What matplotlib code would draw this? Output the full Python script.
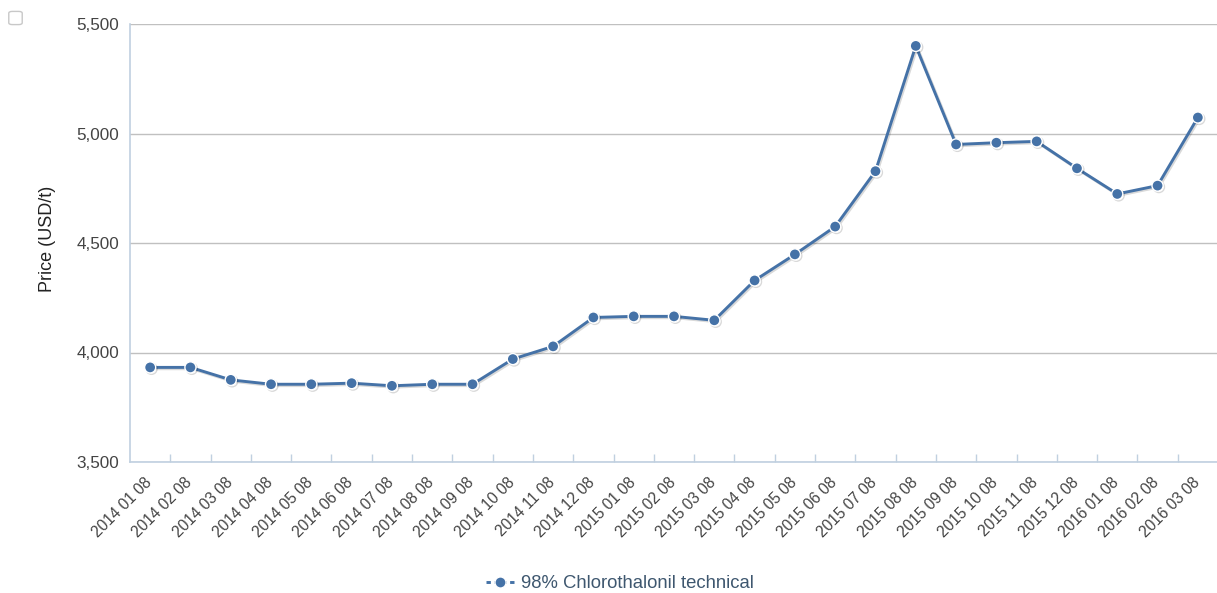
import numpy as np
import matplotlib.pyplot as plt
from matplotlib.lines import Line2D
from matplotlib.patches import FancyBboxPatch
from matplotlib.transforms import ScaledTranslation
import matplotlib.patheffects as pe

plt.rcParams['font.family'] = ['Liberation Sans', 'DejaVu Sans']

# data
months = ["2014 01 08", "2014 02 08", "2014 03 08", "2014 04 08", "2014 05 08",
          "2014 06 08", "2014 07 08", "2014 08 08", "2014 09 08", "2014 10 08",
          "2014 11 08", "2014 12 08", "2015 01 08", "2015 02 08", "2015 03 08",
          "2015 04 08", "2015 05 08", "2015 06 08", "2015 07 08", "2015 08 08",
          "2015 09 08", "2015 10 08", "2015 11 08", "2015 12 08", "2016 01 08",
          "2016 02 08", "2016 03 08"]
price = [3932, 3932, 3875, 3855, 3855, 3860, 3848, 3855, 3855, 3970,
         4028, 4160, 4165, 4165, 4147, 4329, 4448, 4575, 4828, 5400,
         4950, 4958, 4964, 4841, 4724, 4762, 5073]
series_name = "98% Chlorothalonil technical"
yticks = [3500, 4000, 4500, 5000, 5500]

col = '#4572A7'
axis_col = '#C0D0E0'

fig = plt.figure(figsize=(12.17, 5.93), dpi=100)
ax = fig.add_axes([130/1217, 1-462/593, 1088/1217, 438/593])

x = np.arange(len(months))
ax.plot(x, price, color=col, lw=2.1, marker='o', ms=8, mfc=col, mec='white', mew=1.0,
        zorder=3, clip_on=False,
        path_effects=[pe.SimpleLineShadow(offset=(1, -1), shadow_color='black', alpha=0.15),
                      pe.Normal()])

ax.set_xlim(-0.5, len(months) - 0.5)
ax.set_ylim(3500, 5500)
ax.set_yticks(yticks)
ax.set_yticklabels([f"{v:,}" for v in yticks])
ax.yaxis.grid(True, color='#C0C0C0', lw=1.0)
ax.set_axisbelow(True)

ax.set_xticks(x)
ax.set_xticklabels(months, rotation=45, ha='right', va='top', rotation_mode='anchor')
ax.set_xticks(np.arange(0.5, len(months), 1.0), minor=True)
ax.tick_params(axis='x', which='major', length=0, pad=9, labelsize=11.2, labelcolor='#444444')
ax.tick_params(axis='x', which='minor', length=6, direction='in', color=axis_col, width=1)
ax.tick_params(axis='y', length=0, pad=8, labelsize=12.3, labelcolor='#444444')
shift = ScaledTranslation(-6/100, 0, fig.dpi_scale_trans)
for lab in ax.get_xticklabels():
    lab.set_transform(lab.get_transform() + shift)

for s in ['top', 'right']:
    ax.spines[s].set_visible(False)
ax.spines['left'].set_color(axis_col)
ax.spines['bottom'].set_color(axis_col)
ax.spines['left'].set_linewidth(1.2)
ax.spines['bottom'].set_linewidth(1.2)

fig.text(48/1217, 1-239/593, "Price (USD/t)", rotation=90, ha='center', va='center',
         fontsize=13, color='#222222')

handle = Line2D([0], [0], color=col, lw=2.1, ls=(0, (1.5, 1.2)), marker='o', ms=8,
                mfc=col, mec='white')
fig.legend([handle], [series_name], loc='center', bbox_to_anchor=(620/1217, 1-584/593),
           frameon=False, fontsize=13.3, labelcolor='#3E576F', handlelength=1.5,
           handletextpad=0.4)

# small checkbox in the top-left corner
box = FancyBboxPatch((10/1217, 1-24/593), 11/1217, 12/593,
                     boxstyle='round,pad=0.001,rounding_size=0.003',
                     transform=fig.transFigure, fc='white', ec='#C8C8C8', lw=1.0)
fig.patches.append(box)

fig.savefig('out.png', dpi=100)
